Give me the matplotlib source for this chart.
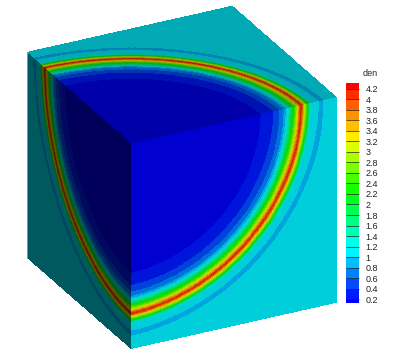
import numpy as np
import matplotlib
matplotlib.use("Agg")
import matplotlib.pyplot as plt
from matplotlib.colors import ListedColormap, BoundaryNorm
from matplotlib.cm import ScalarMappable

plt.rcParams['font.family'] = ['Liberation Sans', 'DejaVu Sans']

# contour levels and colour of each band, bottom to top
levels = [0.124, 0.2, 0.4, 0.6, 0.8, 1.0, 1.2, 1.4, 1.6, 1.8, 2.0, 2.2, 2.4, 2.6, 2.8, 3.0,
          3.2, 3.4, 3.6, 3.8, 4.0, 4.2, 4.314]
tick_values = [0.2, 0.4, 0.6, 0.8, 1, 1.2, 1.4, 1.6, 1.8, 2, 2.2, 2.4, 2.6, 2.8, 3, 3.2,
               3.4, 3.6, 3.8, 4, 4.2]
band_colors = [(0, 0, 242), (0, 25, 255), (0, 75, 255), (0, 130, 255), (0, 190, 255), (0, 241, 255),
               (0, 255, 235), (0, 255, 180), (0, 255, 130), (0, 255, 80), (0, 255, 30), (20, 255, 0),
               (70, 255, 0), (120, 255, 0), (170, 255, 0), (220, 255, 0), (255, 235, 0), (255, 190, 0),
               (255, 145, 0), (255, 95, 0), (255, 45, 0), (255, 0, 0)]

# density bands against distance from the hidden cube corner (edge length = 1)
radius_edges = [0.630, 0.690, 0.722, 0.742, 0.752, 0.760, 0.766, 0.771, 0.776, 0.781, 0.786,
                0.791, 0.796, 0.800, 0.804, 0.808, 0.812, 0.816, 0.820, 0.824, 0.831, 0.835,
                0.838, 0.841, 0.844, 0.847, 0.850, 0.853, 0.856, 0.859, 0.862, 0.865, 0.868,
                0.871, 0.875, 0.882, 0.912, 0.936]
density_bands = [0.15, 0.3, 0.5, 0.7, 0.9, 1.1, 1.3, 1.5, 1.7, 1.9, 2.1, 2.3, 2.5, 2.7, 2.9,
                 3.1, 3.3, 3.5, 3.7, 3.9, 4.1, 3.9, 3.7, 3.5, 3.3, 3.1, 2.9, 2.7, 2.5, 2.3,
                 2.1, 1.9, 1.7, 1.5, 1.3, 1.1, 1.1, 0.9, 1.1]

# face shading: right, top, left
face_shade = {'right': 0.86, 'top': 0.70, 'left': 0.37}

# cube outline in pixels
corner = np.array([131.0, 143.3])
top_left = np.array([26.7, 52.0])
right_top = np.array([336.7, 97.0])
bottom = np.array([131.0, 349.0])

fig = plt.figure(figsize=(3.95, 3.51), dpi=100)
ax = fig.add_axes([0, 0, 1, 1])
ax.set_xlim(0, 395)
ax.set_ylim(351, 0)
ax.axis('off')

norm = BoundaryNorm(levels, len(band_colors))
rgb = np.array(band_colors) / 255.0
N = 420
edges = np.linspace(0, 1, N + 1)
mid = 0.5 * (edges[:-1] + edges[1:])
U, V = np.meshgrid(edges, edges)
Um, Vm = np.meshgrid(mid, mid)
R = np.hypot(Um, Vm)
field = np.array(density_bands)[np.searchsorted(radius_edges, R)]


def face(a, b, shade):
    pts = corner[None, None, :] + U[..., None] * (a - corner) + V[..., None] * (b - corner)
    cm = ListedColormap(rgb * shade)
    ax.pcolormesh(pts[..., 0], pts[..., 1], field, cmap=cm, norm=norm,
                  shading='flat', antialiased=False, linewidth=0, zorder=2)


face(right_top, bottom, face_shade['right'])
face(top_left, right_top, face_shade['top'])
face(top_left, bottom, face_shade['left'])

# thin bright sliver along the left edge of the cube
sl = top_left + (bottom - corner)
ax.plot([top_left[0], sl[0]], [top_left[1], sl[1]], color=(0.1, 0.85, 0.88), lw=0.6, zorder=3)

# colour bar
W, H = 395.0, 351.0
cax = fig.add_axes([346 / W, 1 - 303 / H, 13 / W, 220 / H])
sm = ScalarMappable(norm=norm, cmap=ListedColormap(rgb))
cb = fig.colorbar(sm, cax=cax, spacing='proportional', ticks=tick_values,
                  drawedges=True, format='%g')
cb.outline.set_visible(False)
cb.dividers.set_color((0.15, 0.15, 0.1))
cb.dividers.set_linewidth(0.5)
cb.ax.minorticks_off()
cb.ax.tick_params(which='both', length=0, pad=4.8, labelsize=6.5, labelcolor='#222222')
fig.text(363 / W, 1 - 73.5 / H, 'den', fontsize=6.5, color='#222222', va='center', ha='left')

fig.savefig('out.png', dpi=100)
